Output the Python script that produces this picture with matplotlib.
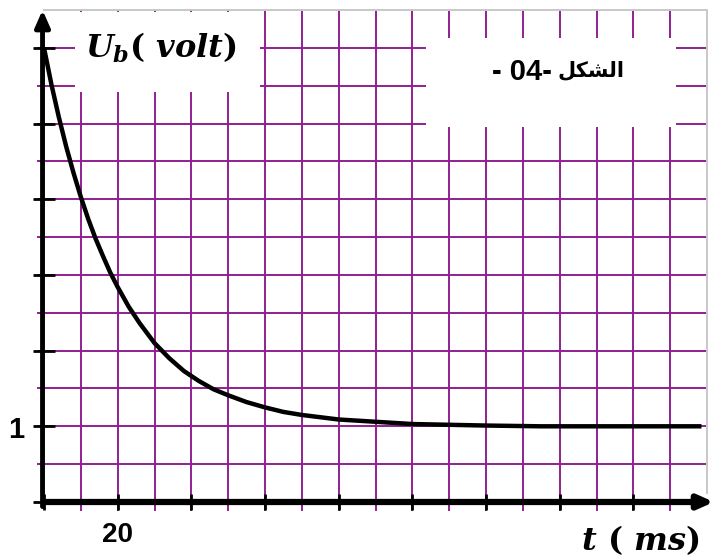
import matplotlib
matplotlib.use("Agg")
import matplotlib.pyplot as plt
import numpy as np
from matplotlib.patches import Rectangle

# values: t in ms, Ub in volt
t_ms = [0, 2, 4, 6, 8, 10, 12, 14, 16, 18, 20, 23, 26, 30, 34, 38, 42, 46, 50,
        55, 60, 65, 70, 80, 90, 100, 110, 120, 135, 150, 165, 178.5]
ub_volt = [6.00, 5.52, 5.09, 4.70, 4.35, 4.03, 3.74, 3.48, 3.25, 3.03, 2.84, 2.58,
           2.36, 2.10, 1.90, 1.73, 1.60, 1.49, 1.41, 1.32, 1.25, 1.19, 1.15, 1.09,
           1.06, 1.03, 1.02, 1.01, 1.00, 1.00, 1.00, 1.00]

x_grid = np.arange(10, 180, 10)
y_grid = np.arange(0.5, 6.5, 0.5)
x_ticks = np.arange(0, 180, 20)
y_ticks = np.arange(0, 6.5, 1)

purple = "#921f92"

plt.rcParams["mathtext.fontset"] = "custom"
plt.rcParams["mathtext.it"] = "DejaVu Serif:italic:bold"
plt.rcParams["mathtext.rm"] = "DejaVu Serif:bold"
plt.rcParams["mathtext.bf"] = "DejaVu Serif:bold"

W, H = 713, 558
x0, x1, y0, y1 = 44, 707, 502, 10
fig = plt.figure(figsize=(W / 100, H / 100), dpi=100)
ax = fig.add_axes([x0 / W, (H - y0) / H, (x1 - x0) / W, (y0 - y1) / H])
ax.set_xlim(0, 180)
ax.set_ylim(0, 6.5)
for s in ax.spines.values():
    s.set_visible(False)

# grid paper
ax.vlines(x_grid, -0.12, 6.5, color=purple, lw=1.4, zorder=1, clip_on=False)
ax.hlines(y_grid, -1.9, 180, color=purple, lw=1.4, zorder=1, clip_on=False)
ax.plot([0, 180, 180], [6.5, 6.5, 0.12], color="#c8c8c8", lw=1.4, zorder=1, clip_on=False)

# white boxes behind the labels
ax.add_patch(Rectangle((8.4, 5.42), 50.3, 1.06, facecolor="white", edgecolor="none", zorder=2))
ax.add_patch(Rectangle((103.8, 4.95), 67.7, 1.18, facecolor="white", edgecolor="none", zorder=2))

ax.plot(t_ms, ub_volt, color="black", lw=3.2, zorder=4, solid_capstyle="butt")

# axes with arrows
ax.annotate("", xy=(181.9, 0), xytext=(0, 0), annotation_clip=False,
            arrowprops=dict(arrowstyle="-|>,head_length=0.45,head_width=0.2", lw=4.5,
                            color="black", mutation_scale=20, shrinkA=0, shrinkB=0), zorder=5)
ax.annotate("", xy=(-0.4, 6.5), xytext=(-0.4, -0.06), annotation_clip=False,
            arrowprops=dict(arrowstyle="-|>,head_length=0.5,head_width=0.22", lw=3.5,
                            color="black", mutation_scale=20, shrinkA=0, shrinkB=0), zorder=5)

ax.set_xticks(x_ticks)
ax.set_yticks(y_ticks)
ax.set_xticklabels([])
ax.set_yticklabels([])
ax.tick_params(axis="x", direction="inout", length=11, width=2, color="black")
ax.tick_params(axis="y", direction="inout", length=16, width=2, color="black")

sans = ["Liberation Sans", "DejaVu Sans"]
ax.text(-7.6, 0.95, "1", ha="center", va="center", fontsize=21, fontweight="bold",
        family=sans, clip_on=False)
ax.text(20, -0.44, "20", ha="center", va="center", fontsize=20, fontweight="bold",
        family=sans, clip_on=False)
ax.text(31.8, 6.0, r"$U_b(\ volt)$", ha="center", va="center", fontsize=23, zorder=6)
ax.text(162.0, -0.5, r"$t\ (\ ms)$", ha="center", va="center", fontsize=23, clip_on=False)
# "الشكل -04 -": number part, then the word in presentation forms (visual order)
ax.text(138.0, 5.68, "- 04-", ha="right", va="center", fontsize=21, fontweight="bold",
        family=sans, zorder=6)
ax.text(139.4, 5.70, "\ufede\ufedc\ufeb8\ufedf\ufe8d", ha="left", va="center",
        fontsize=15, fontweight="bold", family="DejaVu Sans", zorder=6)

fig.savefig("out.png", dpi=100)
